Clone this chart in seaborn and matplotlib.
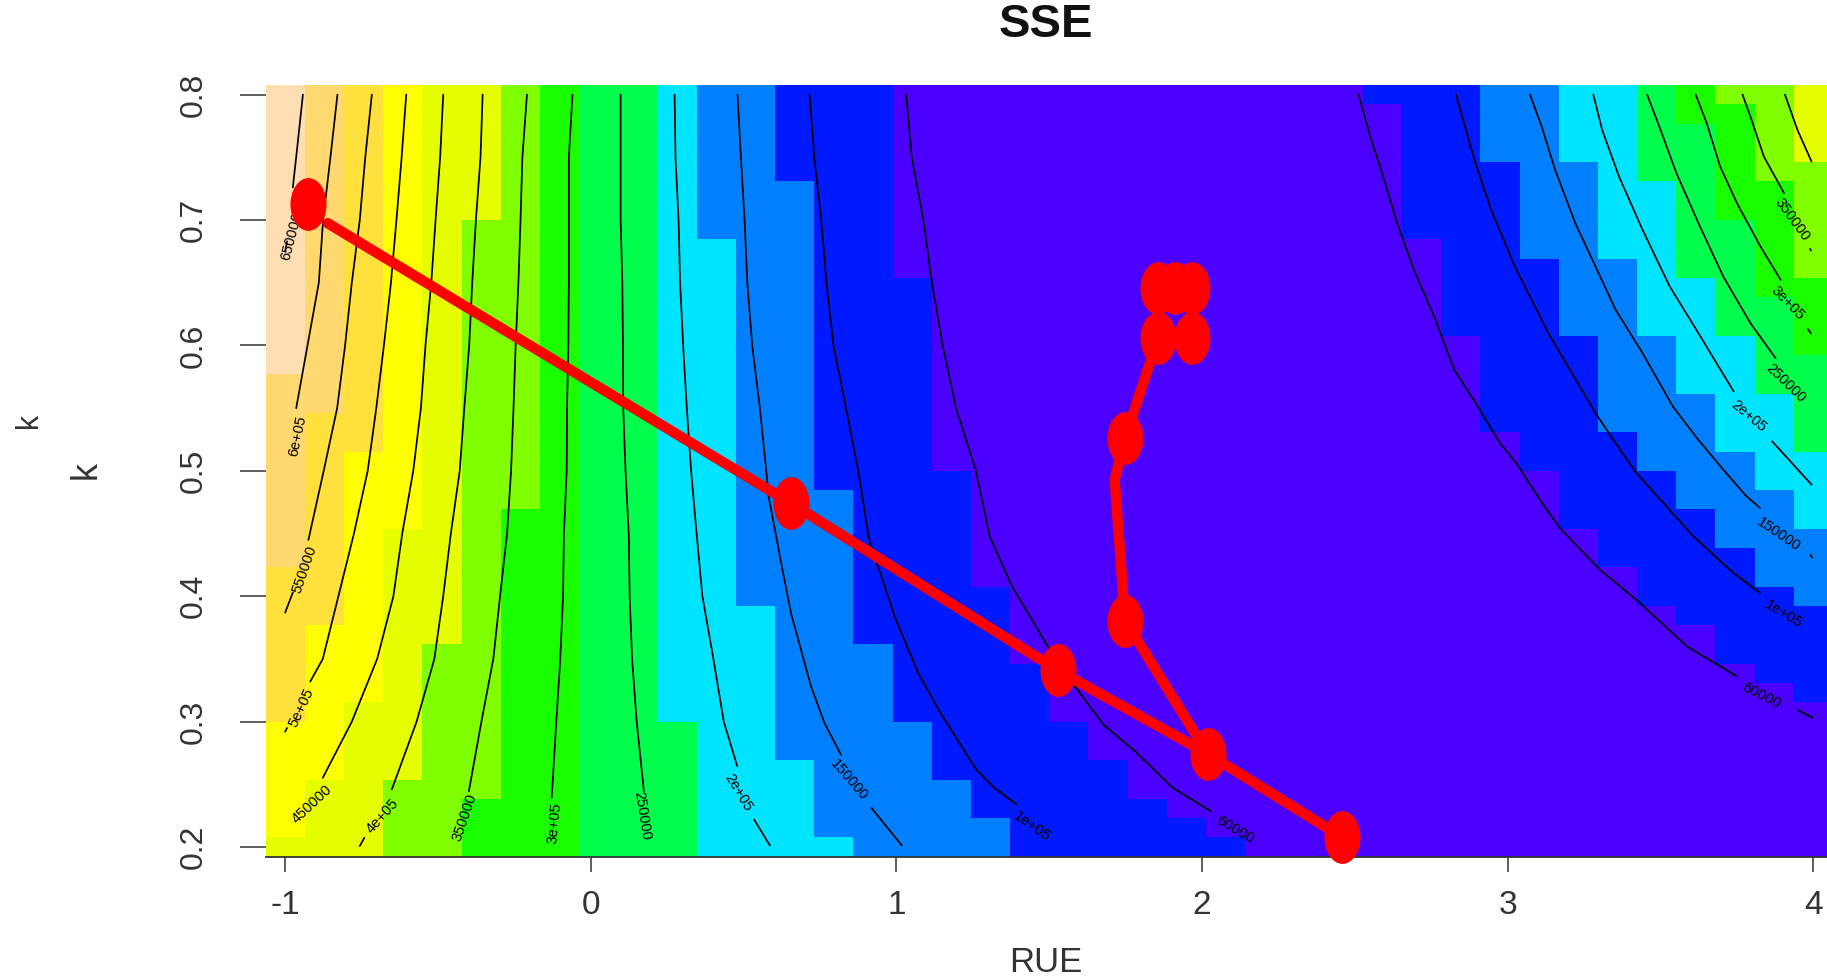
import numpy as np
import pandas as pd
import matplotlib
matplotlib.use('Agg')
import matplotlib.pyplot as plt
from matplotlib.colors import ListedColormap
from matplotlib.path import Path
from matplotlib.transforms import Affine2D
import seaborn as sns

# colour bands, lowest SSE first
band_colors = ['#4B00FF', '#0019FF', '#0080FF', '#00E5FF', '#00FF4D', '#19FF00',
               '#80FF00', '#E6FF00', '#FFFF00', '#FFE03C', '#FFD970', '#FFDEB3']

# 40 x 40 image, each column read top to bottom as (band, number of cells)
column_runs = [
    [(11, 15), (10, 10), (9, 8), (8, 6), (7, 1)],
    [(10, 17), (9, 11), (8, 8), (7, 4)],
    [(9, 19), (8, 13), (7, 8)],
    [(8, 23), (7, 13), (6, 4)],
    [(7, 29), (6, 11)],
    [(7, 7), (6, 30), (5, 3)],
    [(6, 22), (5, 18)],
    [(5, 40)],
    [(4, 40)],
    [(4, 40)],
    [(3, 33), (4, 7)],
    [(2, 8), (3, 32)],
    [(2, 27), (3, 13)],
    [(1, 5), (2, 30), (3, 5)],
    [(1, 21), (2, 18), (3, 1)],
    [(1, 29), (2, 11)],
    [(0, 10), (1, 23), (2, 7)],
    [(0, 20), (1, 16), (2, 4)],
    [(0, 26), (1, 12), (2, 2)],
    [(0, 30), (1, 10)],
    [(0, 33), (1, 7)],
    [(0, 35), (1, 5)],
    [(0, 37), (1, 3)],
    [(0, 38), (1, 2)],
    [(0, 39), (1, 1)],
    [(0, 40)],
    [(0, 40)],
    [(0, 40)],
    [(1, 1), (0, 39)],
    [(1, 8), (0, 32)],
    [(1, 13), (0, 27)],
    [(2, 4), (1, 14), (0, 22)],
    [(2, 9), (1, 11), (0, 20)],
    [(3, 4), (2, 9), (1, 10), (0, 17)],
    [(3, 9), (2, 9), (1, 7), (0, 15)],
    [(4, 5), (3, 8), (2, 7), (1, 7), (0, 13)],
    [(5, 2), (4, 8), (3, 6), (2, 6), (1, 6), (0, 12)],
    [(6, 1), (5, 6), (4, 6), (3, 6), (2, 5), (1, 6), (0, 10)],
    [(6, 5), (5, 6), (4, 5), (3, 5), (2, 5), (1, 5), (0, 9)],
    [(7, 4), (6, 6), (5, 4), (4, 5), (3, 4), (2, 4), (1, 5), (0, 8)],
]

# contour lines, broken where the label sits
k_steps = [0.8, 0.75, 0.7, 0.65, 0.6, 0.55, 0.5, 0.45, 0.4, 0.35, 0.3]

rue_650k = [-0.942, -0.965, -0.975]
k_650k = [0.8, 0.748, 0.726]
rue_650k_b = [-0.994, -1.0]
k_650k_b = [0.683, 0.675]
rue_600k = [-0.829, -0.852, -0.876, -0.890, -0.927, -0.964]
k_600k = [0.8, 0.75, 0.7, 0.65, 0.6, 0.55]
rue_550k = [-0.7165, -0.738, -0.756, -0.782, -0.804, -0.830, -0.874, -0.924]
k_550k = k_steps[:7] + [0.445]
rue_550k_b = [-0.975, -1.0]
k_550k_b = [0.403, 0.387]
rue_500k = [-0.604, -0.619, -0.636, -0.654, -0.677, -0.702, -0.730, -0.775, -0.826, -0.877, -0.918]
k_500k = k_steps[:10] + [0.332]
rue_500k_b = [-0.994, -1.0]
k_500k_b = [0.295, 0.292]
rue_450k = [-0.483, -0.493, -0.508, -0.522, -0.541, -0.556, -0.581, -0.617, -0.646, -0.699, -0.782, -0.877]
k_450k = k_steps + [0.2552]
rue_400k = [-0.354, -0.361, -0.376, -0.388, -0.398, -0.414, -0.429, -0.458, -0.483, -0.512, -0.570, -0.651]
k_400k = k_steps + [0.246]
rue_400k_b = [-0.741, -0.756]
k_400k_b = [0.2074, 0.2008]
rue_350k = [-0.209, -0.224, -0.230, -0.237, -0.246, -0.253, -0.261, -0.274, -0.297, -0.319, -0.358, -0.399]
k_350k = k_steps + [0.2446]
rue_300k = [-0.060, -0.072, -0.072, -0.072, -0.0735, -0.078, -0.079, -0.088, -0.091, -0.100, -0.113, -0.128]
k_300k = k_steps + [0.2393]
rue_250k = [0.0975, 0.0975, 0.0975, 0.103, 0.105, 0.106, 0.1135, 0.124, 0.127, 0.135, 0.150, 0.1735]
k_250k = k_steps + [0.2446]
rue_200k = [0.274, 0.277, 0.287, 0.292, 0.302, 0.314, 0.328, 0.346, 0.365, 0.401, 0.435, 0.479]
k_200k = k_steps + [0.2645]
rue_200k_b = [0.534, 0.586]
k_200k_b = [0.222, 0.2012]
rue_150k = [0.480, 0.491, 0.503, 0.512, 0.528, 0.553, 0.574, 0.5817, 0.6226, 0.6548, 0.7205, 0.7644, 0.8184]
k_150k = [0.8, 0.75, 0.7, 0.65, 0.6, 0.55, 0.5, 0.4797, 0.4266, 0.3867, 0.328, 0.2989, 0.2736]
rue_150k_b = [0.9178, 1.0172]
k_150k_b = [0.2313, 0.2014]
rue_100k = [0.716, 0.731, 0.754, 0.771, 0.794, 0.835, 0.875, 0.9105, 0.954, 0.998, 1.071, 1.144, 1.261, 1.320, 1.393]
k_100k = [0.8, 0.75, 0.7, 0.65, 0.6, 0.55, 0.5, 0.445, 0.4133, 0.3813, 0.3389, 0.3070, 0.2619, 0.2473, 0.234]
rue_50k = [1.0316, 1.050, 1.088, 1.116, 1.151, 1.195, 1.260, 1.305, 1.378, 1.495, 1.583, 1.678, 1.780, 1.904, 2.028]
k_50k = [0.8, 0.75, 0.7, 0.65, 0.6, 0.55, 0.5, 0.4478, 0.4079, 0.3601, 0.3283, 0.2975, 0.2765, 0.2473, 0.2287]

# same levels again on the right hand side of the valley
rue_50k_r = [2.5117, 2.550, 2.589, 2.638, 2.693, 2.759, 2.825, 2.902, 2.974, 3.028, 3.105, 3.170, 3.301, 3.432, 3.585, 3.749]
k_50k_r = [0.8, 0.7665, 0.7373, 0.6975, 0.6603, 0.6231, 0.5806, 0.5514, 0.5222, 0.5063, 0.4771, 0.4545, 0.4213, 0.3948, 0.3602, 0.3363]
rue_50k_r_b = [3.950, 3.997]
k_50k_r_b = [0.3092, 0.3031]
rue_100k_r = [2.831, 2.891, 2.946, 3.023, 3.133, 3.287, 3.345, 3.421, 3.607, 3.738, 3.825]
k_100k_r = [0.8, 0.7479, 0.7081, 0.663, 0.6098, 0.5461, 0.5249, 0.4983, 0.4479, 0.4187, 0.4027]
rue_150k_r = [3.073, 3.111, 3.155, 3.221, 3.287, 3.353, 3.441, 3.540, 3.623, 3.705, 3.781, 3.825]
k_150k_r = [0.8, 0.7745, 0.74, 0.6975, 0.663, 0.6284, 0.5939, 0.5514, 0.5249, 0.501, 0.4797, 0.4705]
rue_150k_r_b = [3.990, 3.996]
k_150k_r_b = [0.433, 0.431]
rue_200k_r = [3.280, 3.309, 3.364, 3.441, 3.530, 3.617, 3.739]
k_200k_r = [0.8, 0.7718, 0.7347, 0.6922, 0.647, 0.6125, 0.5634]
rue_200k_r_b = [3.865, 3.994]
k_200k_r_b = [0.5235, 0.489]
rue_250k_r = [3.456, 3.496, 3.552, 3.629, 3.705, 3.794, 3.876]
k_250k_r = [0.8, 0.7745, 0.7373, 0.6948, 0.655, 0.6178, 0.5899]
rue_300k_r = [3.615, 3.651, 3.695, 3.750, 3.827, 3.893]
k_300k_r = [0.8, 0.7772, 0.7426, 0.7134, 0.6788, 0.6523]
rue_300k_r_b = [3.982, 3.992]
k_300k_r_b = [0.613, 0.6098]
rue_350k_r = [3.768, 3.794, 3.838, 3.904]
k_350k_r = [0.8, 0.7825, 0.7506, 0.7214]
rue_350k_r_b = [3.989, 3.992]
k_350k_r_b = [0.677, 0.6757]
rue_400k_r = [3.907, 3.948, 3.994]
k_400k_r = [0.8, 0.7718, 0.7466]

contour_segments = [
    (rue_650k, k_650k), (rue_650k_b, k_650k_b), (rue_600k, k_600k), (rue_550k, k_550k),
    (rue_550k_b, k_550k_b), (rue_500k, k_500k), (rue_500k_b, k_500k_b), (rue_450k, k_450k),
    (rue_400k, k_400k), (rue_400k_b, k_400k_b), (rue_350k, k_350k), (rue_300k, k_300k),
    (rue_250k, k_250k), (rue_200k, k_200k), (rue_200k_b, k_200k_b), (rue_150k, k_150k),
    (rue_150k_b, k_150k_b), (rue_100k, k_100k), (rue_50k, k_50k), (rue_50k_r, k_50k_r),
    (rue_50k_r_b, k_50k_r_b), (rue_100k_r, k_100k_r), (rue_150k_r, k_150k_r),
    (rue_150k_r_b, k_150k_r_b), (rue_200k_r, k_200k_r), (rue_200k_r_b, k_200k_r_b),
    (rue_250k_r, k_250k_r), (rue_300k_r, k_300k_r), (rue_300k_r_b, k_300k_r_b),
    (rue_350k_r, k_350k_r), (rue_350k_r_b, k_350k_r_b), (rue_400k_r, k_400k_r),
]

label_text = ['650000', '6e+05', '550000', '5e+05', '450000', '4e+05', '350000', '3e+05', '250000',
              '2e+05', '150000', '1e+05', '60000', '60000', '1e+05', '150000', '2e+05', '250000',
              '3e+05', '350000']
label_rue = [-0.98, -0.958, -0.936, -0.946, -0.914, -0.683, -0.4125, -0.117, 0.1676,
             0.4838, 0.8447, 1.444, 2.109, 3.830, 3.901, 3.885, 3.788, 3.909, 3.915, 3.931]
label_k = [0.687, 0.5275, 0.4212, 0.311, 0.234, 0.2247, 0.2234, 0.2194, 0.2247,
           0.2433, 0.2539, 0.2167, 0.2141, 0.3204, 0.3855, 0.4492, 0.5434, 0.57, 0.6337, 0.70]
label_rot = [75, 78, 71, 65, 43, 48, 71, 84, -81, -59, -49, -35, -30, -27, -31, -34, -40, -44, -46, -54]

# optimiser path, red
path_rue = [-0.861, 0.656, 1.529, 2.018, 2.457]
path_k = [0.6975, 0.474, 0.3408, 0.2744, 0.208]
path2_rue = [2.018, 1.748, 1.726, 1.714, 1.748, 1.856]
path2_k = [0.2744, 0.3806, 0.453, 0.493, 0.5262, 0.6058]
point_rue = [-0.925, 0.656, 1.529, 2.018, 2.457, 1.748, 1.748, 1.856, 1.968, 1.856, 1.911, 1.968]
point_k = [0.7127, 0.474, 0.3408, 0.2744, 0.208, 0.3806, 0.5262, 0.6058, 0.6058, 0.6462, 0.6462, 0.6462]

x_ticks = [-1, 0, 1, 2, 3, 4]
y_ticks = [0.2, 0.3, 0.4, 0.5, 0.6, 0.7, 0.8]

W, H = 1827, 980
LEFT, RIGHT, TOP, BOTTOM = 265.6, 1833, 85, 856.7

sns.set_style('white')
plt.rcParams['font.family'] = ['Liberation Sans', 'DejaVu Sans']

fig = plt.figure(figsize=(W / 100, H / 100), dpi=100)
pos = [LEFT / W, 1 - BOTTOM / H, (RIGHT - LEFT) / W, (BOTTOM - TOP) / H]

# the image goes on its own axes, seaborn puts it on cell coordinates
ax_img = fig.add_axes(pos)
grid = np.array([[b for b, n in col for _ in range(n)] for col in column_runs]).T
sns.heatmap(grid, ax=ax_img, cmap=ListedColormap(band_colors), vmin=-0.5, vmax=11.5,
            cbar=False, xticklabels=False, yticklabels=False)
ax_img.set_axis_off()

ax = fig.add_axes(pos, facecolor='none')
seg_table = pd.concat([pd.DataFrame({'rue': r, 'k': c, 'seg': i})
                       for i, (r, c) in enumerate(contour_segments)])
sns.lineplot(data=seg_table, x='rue', y='k', units='seg', estimator=None, sort=False,
             color='black', lw=1.25, legend=False, ax=ax)

for t, r, c, a in zip(label_text, label_rue, label_k, label_rot):
    ax.text(r, c, t, rotation=a, rotation_mode='anchor', ha='center', va='center',
            fontsize=10.5, color='black')

sns.lineplot(x=path_rue, y=path_k, sort=False, estimator=None, color='red', lw=7.5, ax=ax)
sns.lineplot(x=path2_rue, y=path2_k, sort=False, estimator=None, color='red', lw=7.5, ax=ax)

# R stretched its round points, so make the marker taller than wide
ellipse = Path.unit_circle().transformed(Affine2D().scale(36 / 52.7, 1))
sns.scatterplot(x=point_rue, y=point_k, marker=ellipse, s=1444, color='red', linewidth=0,
                clip_on=False, zorder=5, ax=ax)

ax.set_xlim(-1 - 2.5 / 39, 4 + 2.5 / 39)
ax.set_ylim(0.2 - 0.3 / 39, 0.8 + 0.3 / 39)
ax.set_xticks(x_ticks)
ax.set_yticks(y_ticks)
ax.set_xticklabels(['-1', '0', '1', '2', '3', '4'], fontsize=24, color='#333333')
ax.set_yticklabels(['0.2', '0.3', '0.4', '0.5', '0.6', '0.7', '0.8'], fontsize=23,
                   rotation=90, va='center', color='#333333')
ax.tick_params(axis='x', length=10.8, width=1.1, color='#333333', pad=13, bottom=True)
ax.tick_params(axis='y', length=18.7, width=1.1, color='#333333', pad=22, left=True)
for s in ['top', 'left', 'right']:
    ax.spines[s].set_visible(False)
ax.spines['bottom'].set_color('#333333')
ax.spines['bottom'].set_linewidth(1.3)
ax.set_xlabel('')
ax.set_ylabel('')

fig.text(1046 / W, 1 - 25 / H, 'SSE', fontsize=34, fontweight='bold', ha='center', va='center', color='#111111')
fig.text(1046 / W, 1 - 962 / H, 'RUE', fontsize=25, ha='center', va='center', color='#333333')
fig.text(86 / W, 1 - 470 / H, 'k', fontsize=26, rotation=90, ha='center', va='center', color='#333333')
fig.text(29 / W, 1 - 420 / H, 'k', fontsize=22, rotation=90, ha='center', va='center', color='#333333')

fig.savefig('out.png', dpi=100)
